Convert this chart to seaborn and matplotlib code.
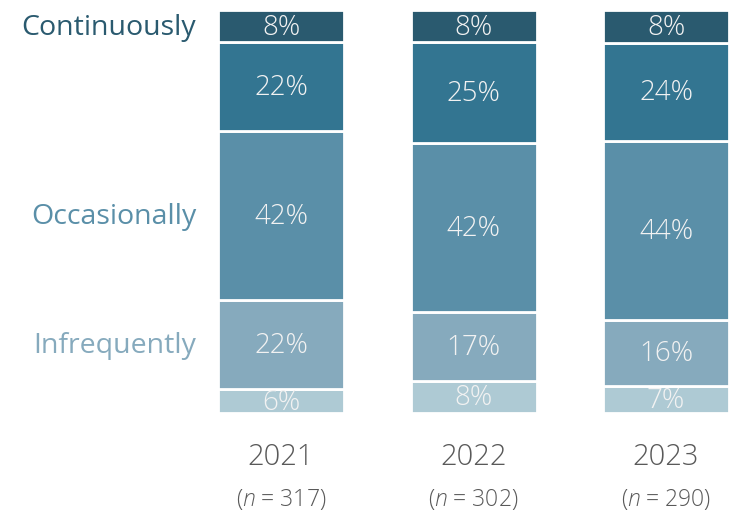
import matplotlib
matplotlib.use("Agg")
import matplotlib.pyplot as plt
import seaborn as sns
import numpy as np
import pandas as pd

# Data (bottom segment first)
years = ["2021", "2022", "2023"]
sample_sizes = [317, 302, 290]
levels = ["Never", "Infrequently", "Occasionally", "Frequently", "Continuously"]
shown_labels = ["", "Infrequently", "Occasionally", "", "Continuously"]
values = {
    "Never":        [6, 8, 6.8],
    "Infrequently": [22, 17, 16.3],
    "Occasionally": [42, 42, 44.4],
    "Frequently":   [22, 25, 24.4],
    "Continuously": [8, 8, 8.1],
}
colors = ["#aecad4", "#86aabd", "#5a8fa8", "#337591", "#2a5a6f"]
label_colors = {"Infrequently": "#86aabd", "Occasionally": "#5a8fa8", "Continuously": "#2a5a6f"}

sns.set_style("white")
plt.rcParams["font.family"] = ["Open Sans", "DejaVu Sans"]
plt.rcParams["mathtext.fontset"] = "custom"
plt.rcParams["mathtext.rm"] = "Open Sans:light"
plt.rcParams["mathtext.it"] = "Open Sans:italic:light"

fig = plt.figure(figsize=(7.29, 5.14), dpi=100)
ax = fig.add_axes([0, 0, 1, 1])

bottom = np.zeros(len(years))
for level, color in zip(levels, colors):
    df = pd.DataFrame({"year": years, "pct": values[level]})
    sns.barplot(data=df, x="year", y="pct", bottom=bottom, color=color,
                width=0.655, edgecolor="white", linewidth=2, errorbar=None,
                saturation=1, ax=ax)
    bottom = bottom + np.array(values[level])

# percentage labels, clipped to their own segment
for patch in ax.patches:
    h = patch.get_height()
    cx = patch.get_x() + patch.get_width() / 2
    cy = patch.get_y() + h / 2
    t = ax.text(cx, cy - 0.4, f"{h:.0f}%", ha="center", va="center",
                color="#f2f2f2", fontsize=20, fontweight="light")
    t.set_clip_path(patch)

# category labels on the left, aligned with the 2021 bar
cum = 0
for level, lab in zip(levels, shown_labels):
    v = values[level][0]
    if lab:
        ax.text(-0.44, cum + v / 2 - 0.4, lab, ha="right", va="center",
                fontsize=20.5, color=label_colors[lab])
    cum += v

# year and sample size below bars
for i, (yr, n) in enumerate(zip(years, sample_sizes)):
    ax.text(i, -11, yr, ha="center", va="center", fontsize=21,
            color="#595959", fontweight="light")
    ax.text(i, -21.5, r"($\mathit{n}$ = " + str(n) + ")", ha="center", va="center",
            fontsize=16.5, color="#595959", fontweight="light")

ax.set_xlim(-1.46, 2.327)
ax.set_ylim(-25.06, 102.48)
ax.axis("off")

fig.savefig("out.png", dpi=100)
